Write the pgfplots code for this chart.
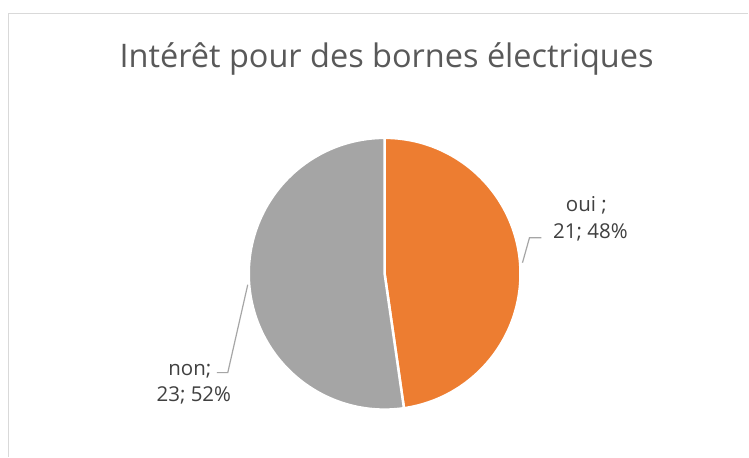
\documentclass[border=0pt]{standalone}
\usepackage{pgfplots}
\usepackage{pgfplotstable}
\pgfplotsset{compat=1.18}
\usepackage{fontspec}
\setmainfont{Open Sans}

\definecolor{sliceorange}{HTML}{ED7D31}
\definecolor{slicegray}{HTML}{A5A5A5}
\definecolor{titlegray}{HTML}{595959}
\definecolor{labelgray}{HTML}{404040}
\definecolor{framegray}{HTML}{D9D9D9}
\definecolor{leadergray}{HTML}{A6A6A6}

\pgfplotstableread{
label value
oui   21
non   23
}\piedata

\begin{document}
\begin{tikzpicture}
  \pgfplotstablegetelem{0}{value}\of\piedata \let\vOui\pgfplotsretval
  \pgfplotstablegetelem{1}{value}\of\piedata \let\vNon\pgfplotsretval
  \pgfmathsetmacro\aOui{360*\vOui/(\vOui+\vNon)}
  \pgfmathsetmacro\aEnd{90-\aOui}
  \begin{axis}[
      width=749pt, height=457pt,
      scale only axis,
      xmin=0, xmax=749, ymin=0, ymax=457,
      hide axis,
      clip=false,
    ]
    % background and frame
    \fill[white] (axis cs:0,0) rectangle (axis cs:749,457);
    \draw[framegray, line width=1.5pt] (axis cs:8.5,0) -- (axis cs:8.5,443.5) -- (axis cs:749,443.5);

    % title
    \node[anchor=base, text=titlegray, font=\fontsize{32.5}{38}\selectfont]
      at (axis cs:387,389) {Intérêt pour des bornes électriques};

    % slices
    \filldraw[fill=sliceorange, draw=white, line width=2.5pt, line join=round]
      (axis cs:385,183) -- ++(90:136pt) arc[start angle=90, end angle=\aEnd, radius=136pt] -- cycle;
    \filldraw[fill=slicegray, draw=white, line width=2.5pt, line join=round]
      (axis cs:385,183) -- ++(\aEnd:136pt) arc[start angle=\aEnd, end angle=-270, radius=136pt] -- cycle;

    % leader lines
    \addplot[leadergray, line width=1.2pt, mark=none] coordinates {(523,194) (530,219) (542,219)};
    \addplot[leadergray, line width=1.2pt, mark=none] coordinates {(248,172) (228,84) (217,84)};

    % data labels
    \node[anchor=base, text=labelgray, font=\fontsize{20.5}{24}\selectfont] at (axis cs:587,245) {oui ;};
    \node[anchor=base, text=labelgray, font=\fontsize{20.5}{24}\selectfont] at (axis cs:591,218) {21; 48\%};
    \node[anchor=base, text=labelgray, font=\fontsize{20.5}{24}\selectfont] at (axis cs:190,81) {non;};
    \node[anchor=base, text=labelgray, font=\fontsize{20.5}{24}\selectfont] at (axis cs:194,55) {23; 52\%};
  \end{axis}
\end{tikzpicture}
\end{document}
